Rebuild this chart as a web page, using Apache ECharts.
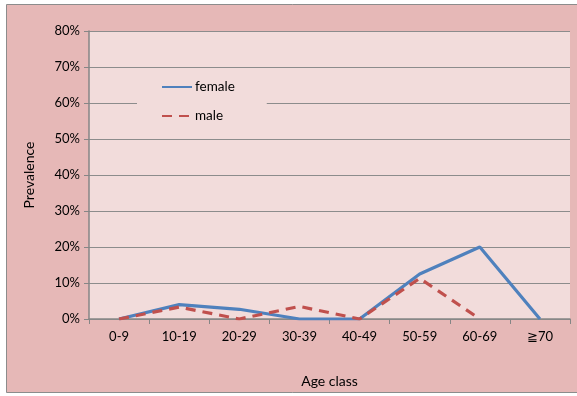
<!DOCTYPE html>
<html><head><meta charset="utf-8">
<script src="https://cdn.jsdelivr.net/npm/echarts@6/dist/echarts.min.js"></script>
<style>html,body{margin:0;padding:0;background:#fff}#c{width:577px;height:396px}</style>
</head><body><div id="c"></div>
<script>
const categories = ['0-9','10-19','20-29','30-39','40-49','50-59','60-69','≧70'];
const female = [0, 4, 2.7, 0, 0, 12.5, 20, 0];
const male = [0, 3.3, 0, 3.5, 0, 11.3, 0, null];
const yTicks = [0, 10, 20, 30, 40, 50, 60, 70, 80];
const FONT = 'Lato, "Open Sans", sans-serif';
const chart = echarts.init(document.getElementById('c'));
chart.setOption({
  backgroundColor: '#fff',
  animation: false,
  textStyle: {fontFamily: FONT, color: '#000'},
  graphic: [{type:'rect', z:-10, shape:{x:6.5,y:4.5,width:575,height:388}, style:{fill:'#E6B8B7', stroke:'#8c8c8c', lineWidth:1}}],
  grid: {left: 89, top: 31, right: 7, bottom: 77, show: true, backgroundColor: '#F2DCDB', borderWidth: 0},
  legend: {
    orient: 'vertical', left: 137, top: 74, itemWidth: 30, itemHeight: 3, itemGap: 15,
    padding: [6, 32, 6, 24], backgroundColor: '#F2DCDB',
    itemStyle: {opacity: 0},
    textStyle: {fontFamily: FONT, fontSize: 13.5, color: '#000', padding: [0,0,0,-2]},
    data: ['female', 'male']
  },
  xAxis: {
    type: 'category', data: categories, boundaryGap: true,
    name: 'Age class', nameLocation: 'middle', nameGap: 55,
    nameTextStyle: {fontFamily: FONT, fontSize: 14, color: '#000'},
    axisLine: {lineStyle: {color: '#868686', width: 1.5}},
    axisTick: {show: true, length: 5, lineStyle: {color: '#868686'}},
    axisLabel: {fontFamily: FONT, fontSize: 13, color: '#000', margin: 11}
  },
  yAxis: {
    type: 'value', min: 0, max: 80, interval: 10,
    name: 'Prevalence', nameLocation: 'middle', nameGap: 53, nameRotate: 90,
    nameTextStyle: {fontFamily: FONT, fontSize: 14, color: '#000'},
    axisLine: {show: true, lineStyle: {color: '#868686', width: 1.5}},
    axisTick: {show: true, length: 5, inside: false, lineStyle: {color: '#868686'}},
    axisLabel: {fontFamily: FONT, fontSize: 13, color: '#000', margin: 9,
      formatter: v => yTicks.includes(v) ? v + '%' : ''},
    splitLine: {show: true, lineStyle: {color: '#8c8c8c', width: 1}}
  },
  series: [
    {name: 'female', type: 'line', data: female, symbol: 'none', color: '#4F81BD',
     lineStyle: {color: '#4F81BD', width: 3.2}},
    {name: 'male', type: 'line', data: male, symbol: 'none', color: '#C0504D',
     lineStyle: {color: '#C0504D', width: 3.2, type: [10, 7]}}
  ]
});
</script></body></html>
